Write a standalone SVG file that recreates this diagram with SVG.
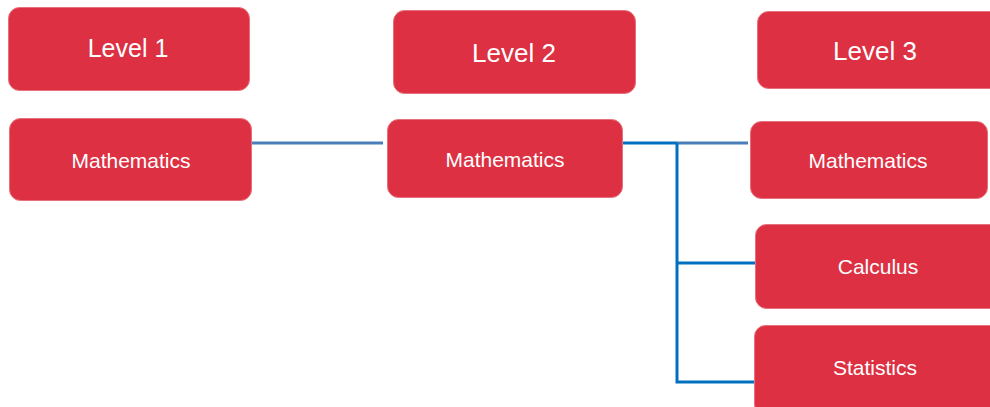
<svg xmlns="http://www.w3.org/2000/svg" width="990" height="407" viewBox="0 0 990 407">
<style>
.box{fill:#dd3042;stroke:#e8707c;stroke-width:1}
.t{fill:#ffffff;font-family:"Liberation Sans",Arial,sans-serif;text-anchor:middle}
.lv{font-size:25px}
.sub{font-size:21px}
.c1{stroke:#4a7ebb;stroke-width:3;fill:none}
.c2{stroke:#0070c0;stroke-width:3;fill:none}
</style>
<rect width="990" height="407" fill="#ffffff"/>
<g id="connectors">
<line class="c1" x1="252" y1="143" x2="383" y2="143"/>
<line class="c2" x1="623" y1="143" x2="677" y2="143"/>
<line class="c1" x1="677" y1="143" x2="748" y2="143"/>
<polyline class="c2" points="677,143 677,382 755,382"/>
<line class="c2" x1="677" y1="263" x2="756" y2="263"/>
</g>
<g id="level1">
<rect class="box" x="8.5" y="7.5" width="241" height="83" rx="11"/>
<text class="t lv" x="128" y="57">Level 1</text>
</g>
<g id="level2">
<rect class="box" x="393.5" y="10.5" width="242" height="83" rx="11"/>
<text class="t lv" x="514" y="62" style="font-size:26px">Level 2</text>
</g>
<g id="level3">
<rect class="box" x="757.5" y="11.5" width="245" height="77" rx="11"/>
<text class="t lv" x="875" y="60" style="font-size:26px">Level 3</text>
</g>
<g id="math1">
<rect class="box" x="9.5" y="118.5" width="242" height="82" rx="11"/>
<text class="t sub" x="131" y="168">Mathematics</text>
</g>
<g id="math2">
<rect class="box" x="387.5" y="119.5" width="235" height="78" rx="11"/>
<text class="t sub" x="505" y="167">Mathematics</text>
</g>
<g id="math3">
<rect class="box" x="750.5" y="121.5" width="237" height="77" rx="11"/>
<text class="t sub" x="868" y="168">Mathematics</text>
</g>
<g id="calculus">
<rect class="box" x="755.5" y="224.5" width="250" height="84" rx="11"/>
<text class="t sub" x="878" y="274">Calculus</text>
</g>
<g id="statistics">
<rect class="box" x="754.5" y="325.5" width="250" height="90" rx="11"/>
<text class="t sub" x="875" y="375">Statistics</text>
</g>
</svg>
